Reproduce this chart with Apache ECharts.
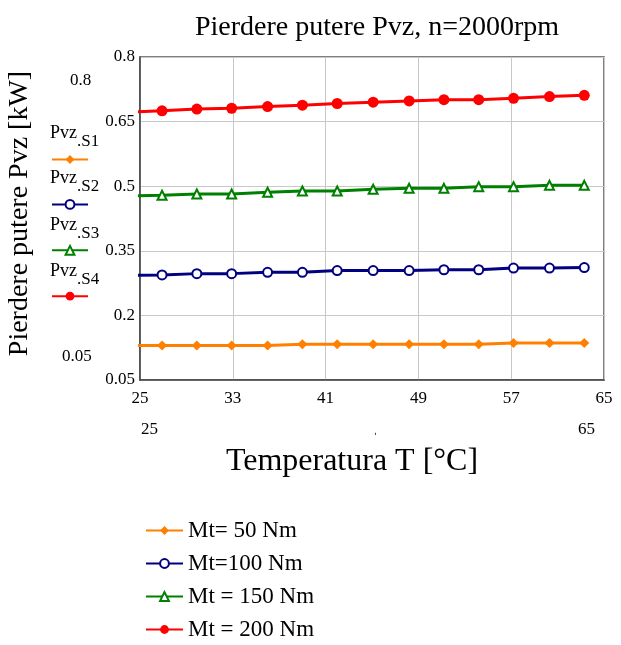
<!DOCTYPE html>
<html>
<head>
<meta charset="utf-8">
<script src="https://cdn.jsdelivr.net/npm/echarts@6/dist/echarts.min.js"></script>
<style>
html,body{margin:0;padding:0;background:#fff;}
#c{width:621px;height:645px;}
</style>
</head>
<body>
<div id="c"></div>
<script>
// Temperature [°C] (first point lies just left of the axis start, as in the reference)
const temperature = [23.9, 26.9, 29.9, 32.9, 36.0, 39.0, 42.0, 45.1, 48.2, 51.2, 54.2, 57.2, 60.3, 63.3];
// Pvz [kW]
const pvzS1 = [0.130, 0.130, 0.130, 0.130, 0.130, 0.133, 0.133, 0.133, 0.133, 0.133, 0.133, 0.136, 0.136, 0.136];
const pvzS2 = [0.293, 0.294, 0.297, 0.297, 0.300, 0.300, 0.304, 0.304, 0.304, 0.306, 0.306, 0.310, 0.310, 0.311];
const pvzS3 = [0.477, 0.479, 0.482, 0.482, 0.486, 0.489, 0.489, 0.493, 0.495, 0.495, 0.499, 0.499, 0.502, 0.502];
const pvzS4 = [0.672, 0.675, 0.679, 0.681, 0.685, 0.688, 0.692, 0.695, 0.698, 0.701, 0.701, 0.704, 0.708, 0.711];
const seriesNames = ['Mt= 50 Nm', 'Mt=100 Nm', 'Mt = 150 Nm', 'Mt = 200 Nm'];
const seriesColors = ['#FF8000', '#000080', '#008000', '#FF0000'];
const yTicks = [0.05, 0.2, 0.35, 0.5, 0.65, 0.8];
const xTicks = [25, 33, 41, 49, 57, 65];

const FONT = '"Liberation Serif", "Times New Roman", serif';
const chart = echarts.init(document.getElementById('c'), null, {renderer: 'canvas'});

function pairs(ys) { return temperature.map((t, i) => [t, ys[i]]); }
const symbols = ['diamond', 'emptyCircle', 'emptyTriangle', 'circle'];
const symbolSizes = [10, 9, 9, 11];
const allData = [pvzS1, pvzS2, pvzS3, pvzS4];

const option = {
  animation: false,
  backgroundColor: '#fff',
  title: {
    text: 'Pierdere putere Pvz, n=2000rpm',
    left: 372, top: 9, textAlign: 'center',
    textStyle: {fontFamily: FONT, fontSize: 28, fontWeight: 'normal', color: '#000'}
  },
  grid: {left: 140, right: 17, top: 57, bottom: 265, containLabel: false, outerBoundsMode: 'none',
    show: true, borderColor: '#555', borderWidth: 1.5, backgroundColor: '#fff'},
  legend: [
    {
      orient: 'vertical', left: 140, top: 514, height: 131,
      itemWidth: 37, itemHeight: 11, itemGap: 10,
      data: seriesNames,
      textStyle: {fontFamily: FONT, fontSize: 23, color: '#000', lineHeight: 23}
    },
    {
      orient: 'vertical', left: 46, top: 149, height: 200,
      itemWidth: 36, itemHeight: 11, itemGap: 35,
      data: seriesNames,
      formatter: function () { return ''; },
      textStyle: {fontSize: 1}
    }
  ],
  xAxis: {
    type: 'value', min: 25, max: 65, interval: 8,
    name: 'Temperatura T [°C]', nameLocation: 'middle', nameGap: 66,
    nameTextStyle: {fontFamily: FONT, fontSize: 32, color: '#000', padding: [0, 40, 0, 0]},
    axisLine: {show: true, lineStyle: {color: '#444', width: 1.5}},
    axisTick: {show: false},
    axisLabel: {fontFamily: FONT, fontSize: 17, color: '#000', margin: 10, showMinLabel: true, showMaxLabel: true},
    splitLine: {show: true, lineStyle: {color: '#c8c8c8', width: 1}}
  },
  yAxis: {
    type: 'value', min: 0.05, max: 0.8, interval: 0.15,
    name: 'Pierdere putere Pvz [kW]', nameLocation: 'middle', nameGap: 106, nameRotate: 90,
    nameTextStyle: {fontFamily: FONT, fontSize: 28, color: '#000', padding: [0, 0, 0, 10]},
    axisLine: {show: true, lineStyle: {color: '#444', width: 1.5}},
    axisTick: {show: false},
    axisLabel: {fontFamily: FONT, fontSize: 17, color: '#000', margin: 5,
      formatter: function (v) { return String(Math.round(v * 100) / 100); }},
    splitLine: {show: true, lineStyle: {color: '#c8c8c8', width: 1}}
  },
  graphic: [
    {type: 'text', left: 70, top: 72, style: {text: '0.8', font: '17px ' + FONT, fill: '#000'}},
    {type: 'text', left: 62, top: 348, style: {text: '0.05', font: '17px ' + FONT, fill: '#000'}},
    {type: 'text', left: 141, top: 421, style: {text: '25', font: '17px ' + FONT, fill: '#000'}},
    {type: 'text', left: 578, top: 421, style: {text: '65', font: '17px ' + FONT, fill: '#000'}},
    {type: 'text', left: 373, top: 421, style: {text: '\u02CC', font: '14px ' + FONT, fill: '#000'}},
    {type: 'text', left: 50, top: 124, style: {text: 'Pvz', font: '18px ' + FONT, fill: '#000'}},
    {type: 'text', left: 77, top: 133, style: {text: '.S1', font: '17px ' + FONT, fill: '#000'}},
    {type: 'text', left: 50, top: 169, style: {text: 'Pvz', font: '18px ' + FONT, fill: '#000'}},
    {type: 'text', left: 77, top: 178, style: {text: '.S2', font: '17px ' + FONT, fill: '#000'}},
    {type: 'text', left: 50, top: 216, style: {text: 'Pvz', font: '18px ' + FONT, fill: '#000'}},
    {type: 'text', left: 77, top: 225, style: {text: '.S3', font: '17px ' + FONT, fill: '#000'}},
    {type: 'text', left: 50, top: 262, style: {text: 'Pvz', font: '18px ' + FONT, fill: '#000'}},
    {type: 'text', left: 77, top: 271, style: {text: '.S4', font: '17px ' + FONT, fill: '#000'}}
  ],
  series: seriesNames.map((name, i) => ({
    name: name,
    type: 'line',
    data: pairs(allData[i]),
    clip: true,
    symbol: symbols[i],
    symbolSize: symbolSizes[i],
    showAllSymbol: true,
    color: seriesColors[i],
    lineStyle: {color: seriesColors[i], width: 3},
    itemStyle: {color: seriesColors[i], borderColor: seriesColors[i], borderWidth: i === 1 || i === 2 ? 1.6 : 0}
  }))
};
chart.setOption(option);
</script>
</body>
</html>
